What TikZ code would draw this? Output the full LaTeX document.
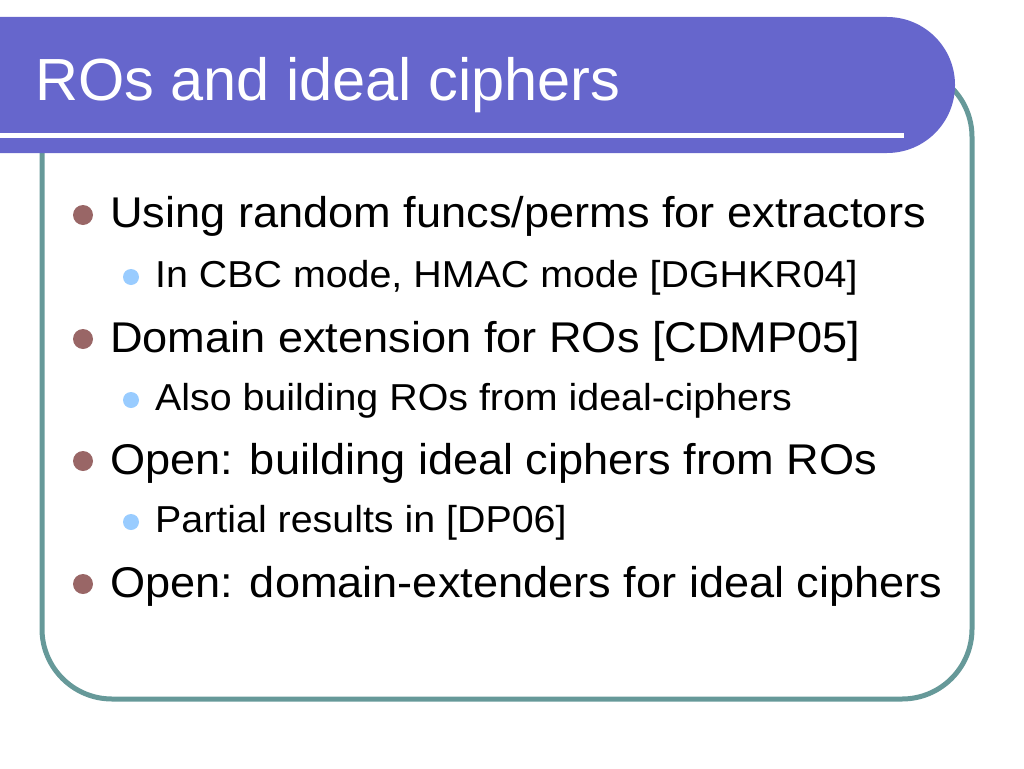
\documentclass[tikz,border=0pt]{standalone}
\usepackage{fontspec}
\setmainfont{Liberation Sans}
\newfontfamily\bodyfont[FakeStretch=1.05]{Liberation Sans}
\definecolor{barblue}{HTML}{6666CC}
\definecolor{frameteal}{HTML}{669999}
\definecolor{dotbrown}{HTML}{996666}
\definecolor{dotsky}{HTML}{99CCFF}
\tikzset{
  titletext/.style={anchor=base west,inner sep=0pt,text=white,font=\fontsize{59.5}{62}\selectfont},
  mainitem/.style={anchor=base west,inner sep=0pt,font=\bodyfont\fontsize{43}{46}\selectfont},
  subitem/.style={anchor=base west,inner sep=0pt,font=\bodyfont\fontsize{37.5}{40}\selectfont},
  maindot/.style={circle,fill=dotbrown,inner sep=0pt,minimum size=20pt},
  subdot/.style={circle,fill=dotsky,inner sep=0pt,minimum size=16pt}
}
\begin{document}
\begin{tikzpicture}[x=1pt,y=-1pt]
\useasboundingbox (0,0) rectangle (1024,768);

% frame
\draw[frameteal,line width=5pt,rounded corners=70pt] (42,67) rectangle (972,699);

% title bar
\fill[barblue,rounded corners=68pt] (-100,17) rectangle (955,153);
\draw[white,line width=5pt] (0,135.5) -- (904,135.5);
\node[titletext] (title) at (35,100) {ROs and ideal ciphers};

% bullets
\node[maindot] (d1) at (83,215) {};
\node[mainitem] (t1) at (110,227) {Using random funcs/perms for extractors};
\node[subdot] (s1) at (131,277) {};
\node[subitem] (u1) at (155,287) {In CBC mode, HMAC mode [DGHKR04]};

\node[maindot] (d2) at (83,339) {};
\node[mainitem] (t2) at (110,352) {Domain extension for ROs [CDMP05]};
\node[subdot] (s2) at (131,400) {};
\node[subitem] (u2) at (155,410) {Also building ROs from ideal-ciphers};

\node[maindot] (d3) at (83,461) {};
\node[mainitem] (t3) at (110,474) {Open: building ideal ciphers from ROs};
\node[subdot] (s3) at (131,522) {};
\node[subitem] (u3) at (155,532) {Partial results in [DP06]};

\node[maindot] (d4) at (83,584) {};
\node[mainitem] (t4) at (110,597) {Open: domain-extenders for ideal ciphers};
\end{tikzpicture}
\end{document}
